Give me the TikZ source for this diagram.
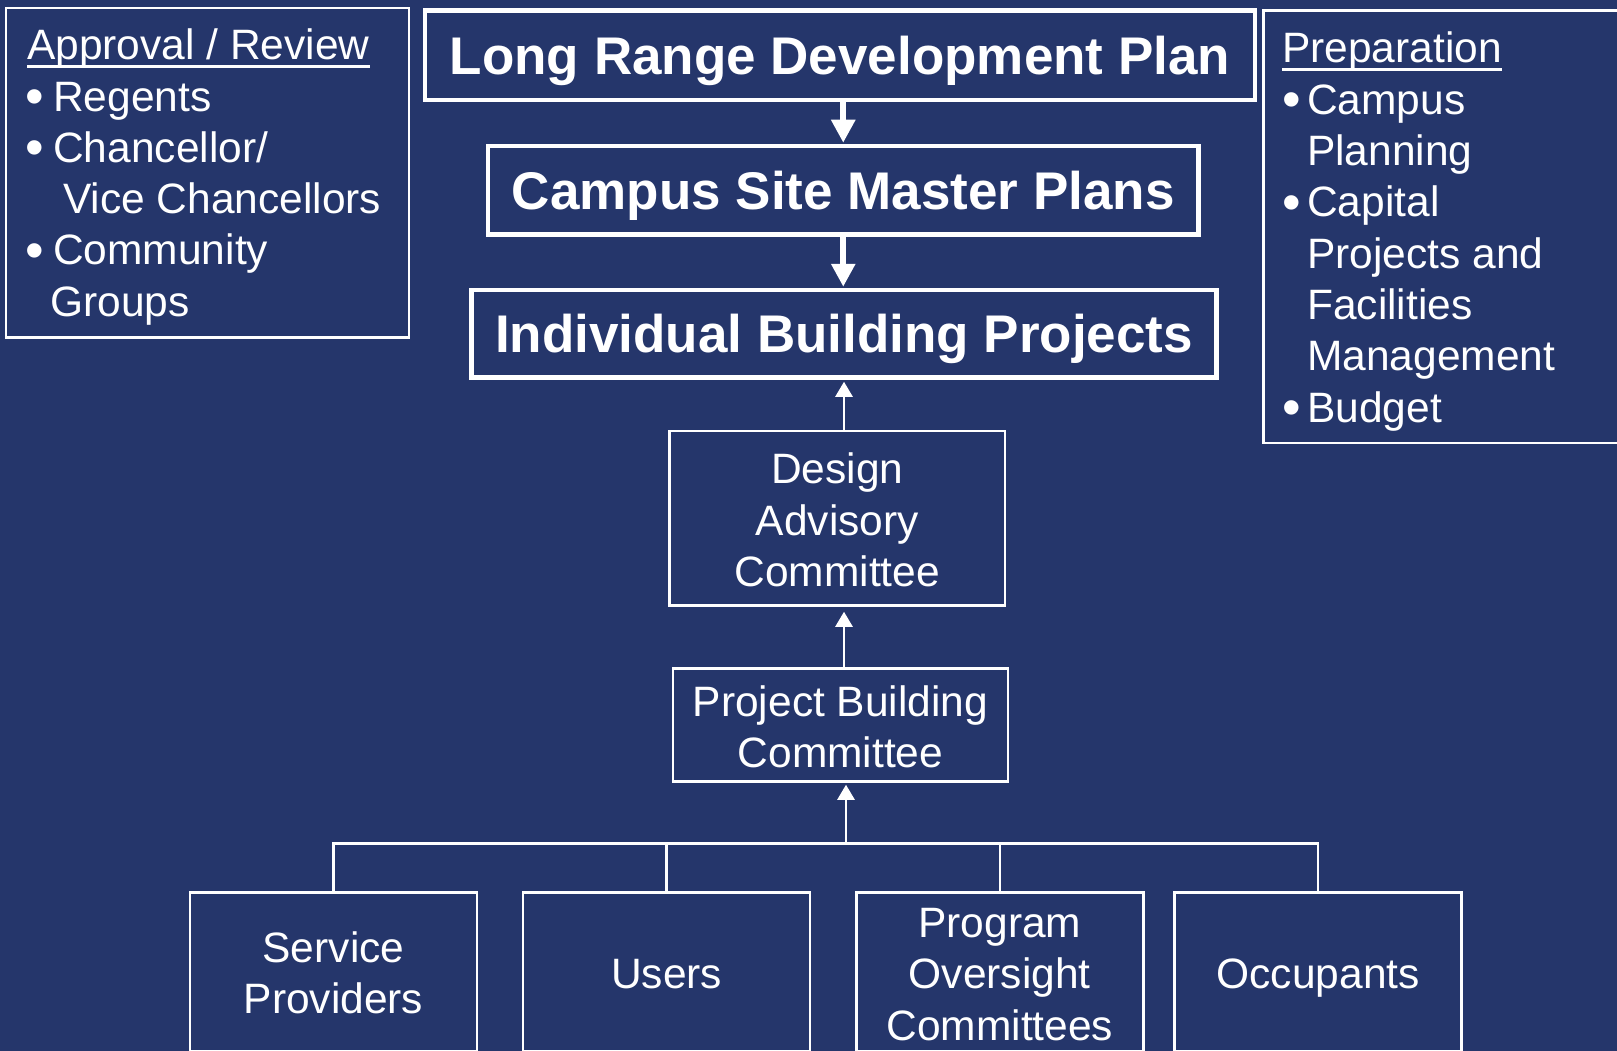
\documentclass[tikz,border=0pt]{standalone}
\usepackage{fontspec}
\usepackage{graphicx}
\setmainfont{Liberation Sans}
\usetikzlibrary{arrows.meta}
\definecolor{navy}{HTML}{25366B}
% enlarged list bullet
\newcommand\listbullet{\raisebox{-3.5pt}{\scalebox{1.25}{•}}}

\begin{document}
\begin{tikzpicture}[x=1pt,y=-1pt,
  every node/.style={text=white},
  bigbox/.style={draw=white, line width=4.5pt, inner sep=0pt,
    font=\fontsize{53}{64}\selectfont\bfseries, text depth=0pt},
  box/.style={draw=white, line width=2.5pt, inner sep=0pt, align=center,
    font=\fontsize{42.5}{51.5}\selectfont},
  boxtext/.style={inner sep=0pt, align=center,
    font=\fontsize{42.5}{51.5}\selectfont},
  listbox/.style={draw=white, line width=2.5pt, inner sep=0pt},
  listitem/.style={anchor=base west, inner sep=0pt,
    font=\fontsize{42.5}{51.5}\selectfont},
  link/.style={draw=white, line width=2.5pt},
  thinarrow/.style={link, -{Triangle[length=15pt,width=17pt]}},
  thickarrow/.style={draw=white, line width=6pt, -{Triangle[length=23pt,width=23pt]}},
  uline/.style={draw=white, line width=3pt},
]
% page and background
\fill[navy] (0,0) rectangle (1617,1051);
\useasboundingbox (0,0) rectangle (1617,1051);

% main plan hierarchy
\node[bigbox, minimum width=830pt, minimum height=89.5pt] (lrdp) at (840,55.25) {Long Range Development Plan};
\node[bigbox, minimum width=710.5pt, minimum height=88.5pt] (csmp) at (843.25,190.25) {Campus Site Master Plans};
\node[bigbox, minimum width=745pt, minimum height=87.5pt] (ibp) at (844,333.75) {Individual Building Projects};

% committees
\node[box, minimum width=335.5pt, minimum height=174.5pt] (dac) at (837.25,518.25) {};
\node[boxtext] (dactext) at (837.25,520.25) {Design\\Advisory\\Committee};
\node[box, minimum width=335pt, minimum height=113pt] (pbc) at (840.5,725) {};
\node[boxtext] (pbctext) at (840.5,727) {Project Building\\Committee};

% contributing groups
\node[box, minimum width=287pt, minimum height=158.5pt] (sp) at (333.5,971.75) {};
\node[boxtext] (sptext) at (333.5,972.75) {Service\\Providers};
\node[box, minimum width=287pt, minimum height=158.5pt] (users) at (666.7,971.75) {};
\node[boxtext, text depth=0pt] (userstext) at (666.7,973.75) {Users};
\node[box, minimum width=287pt, minimum height=158.5pt] (poc) at (999.8,971.75) {};
\node[boxtext] (poctext) at (999.8,974.25) {Program\\Oversight\\Committees};
\node[box, minimum width=287pt, minimum height=158.5pt] (occ) at (1318.2,971.75) {};
\node[boxtext, text depth=0pt] (occtext) at (1318.2,973.75) {Occupants};

% approval / review list
\node[listbox, minimum width=403pt, minimum height=329.9pt] (apprbox) at (207.5,172.75) {};
\node[listitem] (a0) at (27,60) {Approval / Review};
\draw[uline] ([yshift=-6.7pt]a0.base west) -- ([yshift=-6.7pt]a0.base east);
\node[listitem] (ab1) at (25,111.2) {\listbullet};
\node[listitem] (a1) at (53,111.2) {Regents};
\node[listitem] (ab2) at (25,162.4) {\listbullet};
\node[listitem] (a2) at (53,162.4) {Chancellor/};
\node[listitem] (a3) at (63,213.6) {Vice Chancellors};
\node[listitem] (ab3) at (25,264.8) {\listbullet};
\node[listitem] (a4) at (53,264.8) {Community};
\node[listitem] (a5) at (50,316) {Groups};

% preparation list
\node[listbox, minimum width=361.7pt, minimum height=432.3pt] (prepbox) at (1444.15,226.85) {};
\node[listitem] (p0) at (1282,63) {Preparation};
\draw[uline] ([yshift=-6.3pt]p0.base west) -- ([yshift=-6.3pt]p0.base east);
\node[listitem] (pb1) at (1282,114.3) {\listbullet};
\node[listitem] (p1) at (1307,114.3) {Campus};
\node[listitem] (p2) at (1307,165.6) {Planning};
\node[listitem] (pb2) at (1282,216.9) {\listbullet};
\node[listitem] (p3) at (1307,216.9) {Capital};
\node[listitem] (p4) at (1307,268.2) {Projects and};
\node[listitem] (p5) at (1307,319.5) {Facilities};
\node[listitem] (p6) at (1307,370.8) {Management};
\node[listitem] (pb3) at (1282,422.1) {\listbullet};
\node[listitem] (p7) at (1307,422.1) {Budget};

% top-down arrows
\draw[thickarrow, shorten >=1pt] (lrdp.south -| csmp.north) -- (csmp.north);
\draw[thickarrow, shorten >=1pt] (csmp.south) -- (csmp.south |- ibp.north);

% bottom-up arrows
\draw[thinarrow, shorten >=2pt] (dac.north -| ibp.south) -- (ibp.south);
\draw[thinarrow, shorten >=5pt] (pbc.north -| ibp.south) -- (dac.south -| ibp.south);

% collecting bus
\coordinate (bus) at (846,843.5);
\draw[link] (sp.north) |- (occ.north |- bus) -- (occ.north);
\draw[link] (users.north) -- (users.north |- bus);
\draw[link] (poc.north) -- (poc.north |- bus);
\draw[thinarrow, shorten >=2pt] (bus) -- (bus |- pbc.south);
\end{tikzpicture}
\end{document}
